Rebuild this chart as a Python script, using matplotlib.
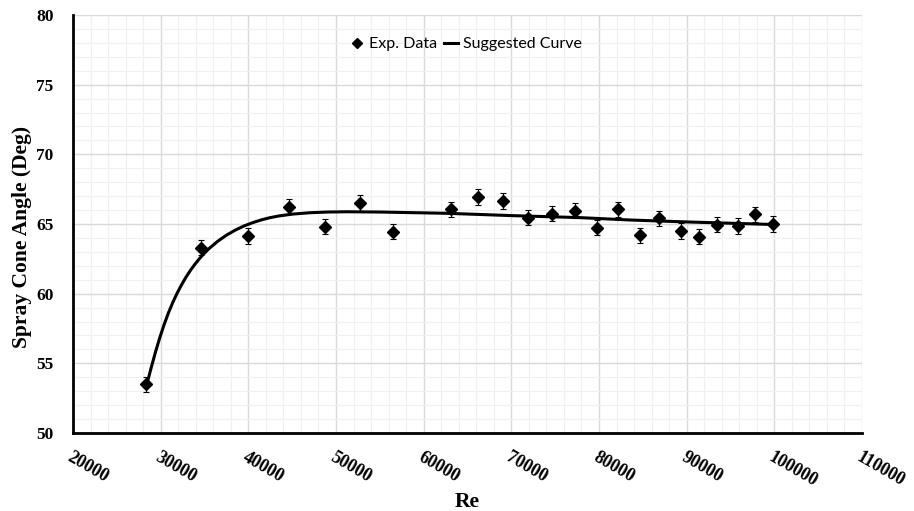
# Spray cone angle vs Reynolds number - recreated chart
import numpy as np
import matplotlib.pyplot as plt
from matplotlib.ticker import MultipleLocator
from matplotlib.lines import Line2D

re_exp = [28300, 34600, 40000, 44600, 48800, 52700, 56500, 63100, 66200, 69000,
          71900, 74600, 77300, 79800, 82200, 84700, 86900, 89300, 91400, 93500,
          95800, 97800, 99800]
angle_exp = [53.5, 63.3, 64.15, 66.25, 64.8, 66.5, 64.45, 66.05, 66.95, 66.65,
             65.45, 65.75, 65.95, 64.75, 66.05, 64.2, 65.4, 64.5, 64.1, 64.95,
             64.85, 65.7, 65.0]
err = 0.55

# suggested curve
re_fit = [28400, 28900, 29400, 29900, 30400, 30900, 31400, 31900, 32400, 32900,
          33400, 33900, 34400, 34900, 35500, 36500, 37500, 38500, 39500, 40500,
          41500, 42500, 43500, 45000, 47000, 49000, 51200, 55000, 62600, 70200,
          77800, 83500, 90000, 99100]
angle_fit = [53.45, 54.65, 55.8, 56.85, 57.8, 58.65, 59.4, 60.07, 60.66, 61.2,
             61.68, 62.11, 62.5, 62.85, 63.23, 63.76, 64.2, 64.56, 64.86, 65.1,
             65.3, 65.46, 65.58, 65.71, 65.81, 65.86, 65.88, 65.86, 65.77, 65.6,
             65.46, 65.29, 65.15, 64.98]

fig = plt.figure(figsize=(9.14, 5.11), dpi=100)
ax = fig.add_axes([0.0799, 0.1526, 0.8632, 0.818])

ax.plot(re_fit, angle_fit, color='black', lw=2.2, zorder=3)
ax.errorbar(re_exp, angle_exp, yerr=err, fmt='D', color='black', ms=6,
            ecolor='black', elinewidth=0.8, capsize=2.5, capthick=0.8, zorder=4)

ax.set_xlim(20000, 110000)
ax.set_ylim(50, 80)
ax.xaxis.set_major_locator(MultipleLocator(10000))
ax.xaxis.set_minor_locator(MultipleLocator(2000))
ax.yaxis.set_major_locator(MultipleLocator(5))
ax.yaxis.set_minor_locator(MultipleLocator(1))

ax.grid(which='major', color='#d9d9d9', lw=1.0)
ax.grid(which='minor', color='#f0f0f0', lw=0.9)
ax.set_axisbelow(True)

for s in ['top', 'right']:
    ax.spines[s].set_visible(False)
for s in ['left', 'bottom']:
    ax.spines[s].set_linewidth(2)
    ax.spines[s].set_color('black')

ax.tick_params(which='both', length=0)
ax.tick_params(axis='y', pad=14)
ax.tick_params(axis='x', pad=11)

serif = 'Liberation Serif'
for lab in ax.get_yticklabels():
    lab.set_fontfamily(serif)
    lab.set_fontweight('bold')
    lab.set_fontsize(12.5)
for lab in ax.get_xticklabels():
    lab.set_fontfamily(serif)
    lab.set_fontweight('bold')
    lab.set_fontsize(13)
    lab.set_rotation(-30)
    lab.set_ha('left')
    lab.set_va('top')
    lab.set_rotation_mode('anchor')

ax.set_xlabel('Re', fontfamily=serif, fontweight='bold', fontsize=15.5)
ax.xaxis.set_label_coords(0.5, -0.14)
ax.set_ylabel('Spray Cone Angle (Deg)', fontfamily=serif, fontweight='bold',
              fontsize=15.5)
ax.yaxis.set_label_coords(-0.052, 0.47)

# legend: plain diamond + short line
h_exp = Line2D([], [], marker='D', ls='none', color='black', ms=5)
h_fit = Line2D([], [], color='black', lw=2.2)
ax.legend([h_exp, h_fit], ['Exp. Data', 'Suggested Curve'], loc='upper center',
          bbox_to_anchor=(0.498, 0.982), ncol=2, frameon=False,
          handlelength=0.9, handletextpad=0.3, columnspacing=0.4,
          prop={'family': 'Lato', 'size': 11.5})

fig.savefig('out.png', dpi=100)
